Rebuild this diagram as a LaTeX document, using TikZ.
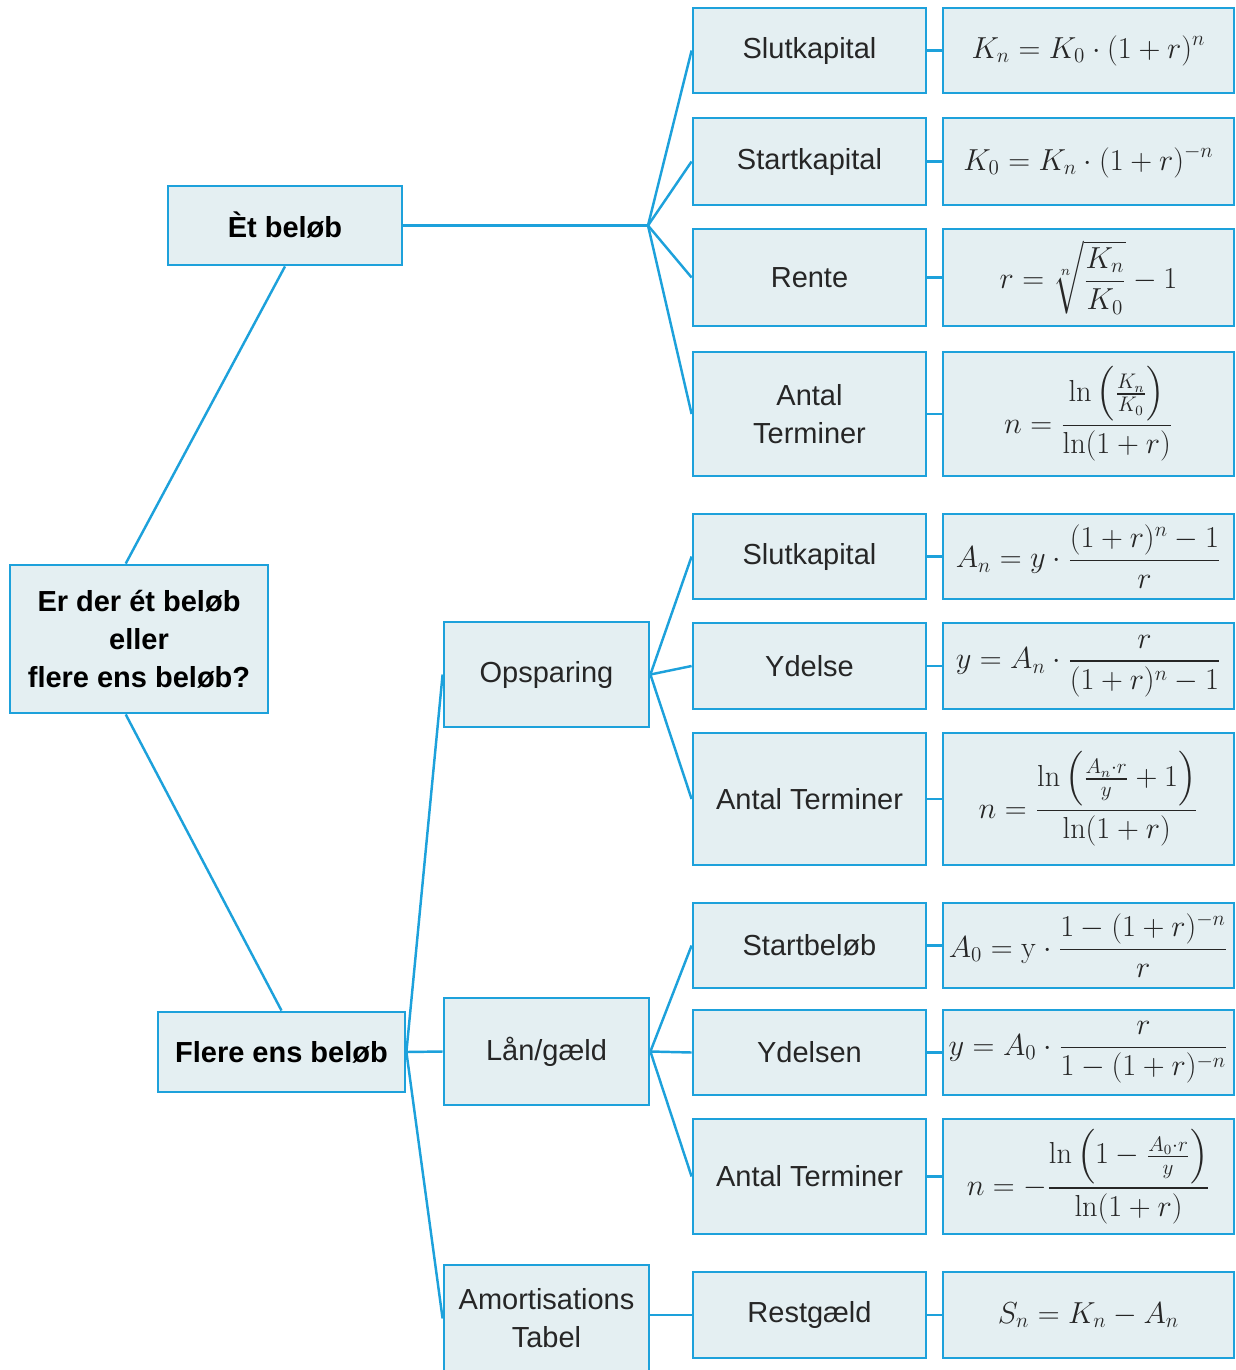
\documentclass[tikz,border=0pt]{standalone}
\usepackage{amsmath}
\usepackage[no-math]{fontspec}
\setmainfont{Liberation Sans}
\definecolor{lineblue}{HTML}{1DA1DB}
\definecolor{boxfill}{HTML}{E4EFF2}
\definecolor{txtgray}{HTML}{262626}

\begin{document}
\begin{tikzpicture}[x=0.02cm, y=-0.02cm,
  box/.style={draw=lineblue, fill=boxfill, line width=1.6pt, inner sep=0pt,
    align=center, text=txtgray, font=\fontsize{16.5}{21.6}\selectfont},
  qbox/.style={box, text=black, font=\fontsize{16.5}{21.6}\selectfont\bfseries},
  sz/.style 2 args={minimum width=#1*0.02cm, minimum height=#2*0.02cm},
  link/.style={draw=lineblue, line width=1.4pt},
]
\useasboundingbox (0,0) rectangle (1236,1370);

% questions
\node[qbox, sz={258}{148}] (root) at (139,639) {Er der ét beløb\\eller\\flere ens beløb?};
\node[qbox, sz={234}{79}] (et) at (285,225.5) {Èt beløb};
\node[qbox, sz={247}{80}] (flere) at (281.5,1052) {Flere ens beløb};

% types
\node[box, sz={205}{105}] (ops) at (546.5,674.5) {Opsparing};
\node[box, sz={205}{107}] (laan) at (546.5,1051.5) {Lån/gæld};
\node[box, sz={205}{107}] (amort) at (546.5,1318.5) {Amortisations\\Tabel};

% quantities
\node[box, sz={233}{85}] (slut1) at (809.5,50.5) {Slutkapital};
\node[box, sz={233}{87}] (start1) at (809.5,161.5) {Startkapital};
\node[box, sz={233}{97}] (rente) at (809.5,277.5) {Rente};
\node[box, sz={233}{124}] (antal1) at (809.5,414) {Antal\\Terminer};
\node[box, sz={233}{85}] (slut2) at (809.5,556.5) {Slutkapital};
\node[box, sz={233}{86}] (ydelse) at (809.5,666) {Ydelse};
\node[box, sz={233}{132}] (antal2) at (809.5,799) {Antal Terminer};
\node[box, sz={233}{85}] (startb) at (809.5,945.5) {Startbeløb};
\node[box, sz={233}{85}] (ydelsen) at (809.5,1052.5) {Ydelsen};
\node[box, sz={233}{115}] (antal3) at (809.5,1176.5) {Antal Terminer};
\node[box, sz={233}{86}] (restg) at (809.5,1315) {Restgæld};

% formulas
\node[box, sz={291}{85}] (fslut1) at (1088.5,50.5)
  {$\displaystyle K_n = K_0\cdot(1+r)^n$};
\node[box, sz={291}{87}] (fstart1) at (1088.5,161.5)
  {$\displaystyle K_0 = K_n\cdot(1+r)^{-n}$};
\node[box, sz={291}{97}] (frente) at (1088.5,277.5)
  {$\displaystyle r = \sqrt[n]{\frac{K_n}{K_0}}-1$};
\node[box, sz={291}{124}] (fantal1) at (1088.5,414)
  {$\displaystyle n = \frac{\ln\left(\frac{K_n}{K_0}\right)}{\ln(1+r)}$};
\node[box, sz={291}{85}] (fslut2) at (1088.5,556.5)
  {$\displaystyle A_n = y\cdot\frac{(1+r)^n-1}{r}$};
\node[box, sz={291}{86}] (fydelse) at (1088.5,666)
  {$\displaystyle y = A_n\cdot\frac{r}{(1+r)^n-1}$};
\node[box, sz={291}{132}] (fantal2) at (1088.5,799)
  {$\displaystyle n = \frac{\ln\left(\frac{A_n\cdot r}{y}+1\right)}{\ln(1+r)}$};
\node[box, sz={291}{85}] (fstartb) at (1088.5,945.5)
  {$\displaystyle A_0 = \mathrm{y}\cdot\frac{1-(1+r)^{-n}}{r}$};
\node[box, sz={291}{85}] (fydelsen) at (1088.5,1052.5)
  {$\displaystyle y = A_0\cdot\frac{r}{1-(1+r)^{-n}}$};
\node[box, sz={291}{115}] (fantal3) at (1088.5,1176.5)
  {$\displaystyle n = -\frac{\ln\left(1-\frac{A_0\cdot r}{y}\right)}{\ln(1+r)}$};
\node[box, sz={291}{86}] (frestg) at (1088.5,1315)
  {$\displaystyle S_n = K_n-A_n$};

% connectors
\draw[link] (root.100) -- (et.south);
\draw[link] (root.260) -- (flere.north);
\coordinate (etsplit) at (648,225.5);
\draw[link] (et.east) -- (etsplit);
\foreach \c in {slut1,start1,rente,antal1}
  \draw[link] (etsplit) -- (\c.west);
\foreach \c in {ops,laan,amort}
  \draw[link] (flere.east) -- (\c.west);
\foreach \c in {slut2,ydelse,antal2}
  \draw[link] (ops.east) -- (\c.west);
\foreach \c in {startb,ydelsen,antal3}
  \draw[link] (laan.east) -- (\c.west);
\draw[link] (amort.east |- restg.west) -- (restg.west);
\foreach \c in {slut1,start1,rente,antal1,slut2,ydelse,antal2,startb,ydelsen,antal3,restg}
  \draw[link] (\c.east) -- (f\c.west);
\end{tikzpicture}
\end{document}
